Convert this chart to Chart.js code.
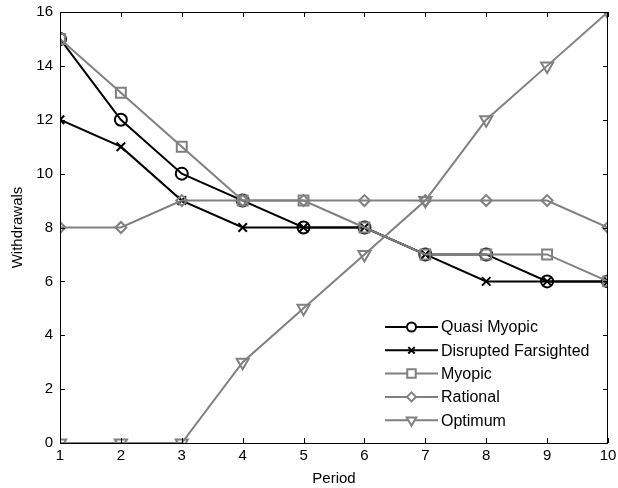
<!DOCTYPE html>
<html>
<head>
<meta charset="utf-8">
<script src="https://cdn.jsdelivr.net/npm/chart.js@4/dist/chart.umd.min.js"></script>
<style>
  html, body { margin: 0; padding: 0; background: #fff; }
  #wrap { width: 618px; height: 488px; }
</style>
</head>
<body>
<div id="wrap"><canvas id="chart" width="618" height="488"></canvas></div>
<script>
const periods = [1, 2, 3, 4, 5, 6, 7, 8, 9, 10];
const quasiMyopic = [15, 12, 10, 9, 8, 8, 7, 7, 6, 6];
const disruptedFarsighted = [12, 11, 9, 8, 8, 8, 7, 6, 6, 6];
const myopic = [15, 13, 11, 9, 9, 8, 7, 7, 7, 6];
const rational = [8, 8, 9, 9, 9, 9, 9, 9, 9, 8];
const optimum = [0, 0, 0, 3, 5, 7, 9, 12, 14, 16];

const BLACK = '#000000';
const GRAY = '#808080';
const FONT = 'Liberation Sans, Arial, sans-serif';

function pts(values) {
    return periods.map((p, i) => ({ x: p, y: values[i] }));
}

function series(label, values, color, style, radius, legendRadius, rotation) {
    return {
        label: label,
        data: pts(values),
        borderColor: color,
        backgroundColor: 'rgba(0,0,0,0)',
        pointBorderColor: color,
        pointBackgroundColor: 'rgba(0,0,0,0)',
        borderWidth: 2,
        pointBorderWidth: 2,
        pointStyle: style,
        pointRadius: radius,
        legendRadius: legendRadius,
        pointRotation: rotation || 0,
        tension: 0
    };
}

const datasets = [
    series('Quasi Myopic', quasiMyopic, BLACK, 'circle', 6, 4.5),
    series('Disrupted Farsighted', disruptedFarsighted, BLACK, 'crossRot', 6, 4.5),
    series('Myopic', myopic, GRAY, 'rect', 7, 6),
    series('Rational', rational, GRAY, 'rectRot', 5.5, 4.5),
    series('Optimum', optimum, GRAY, 'triangle', 7, 5.5, 180)
];
// later series drawn on top, like the original plot
datasets.forEach((d, i) => { d.order = datasets.length - i; });

// box + inward ticks on all four sides
const boxPlugin = {
    id: 'box',
    afterDatasetsDraw(chart) {
        const ctx = chart.ctx;
        const a = chart.chartArea;
        const xs = chart.scales.x;
        const ys = chart.scales.y;
        ctx.save();
        ctx.strokeStyle = BLACK;
        ctx.lineWidth = 1;
        ctx.strokeRect(a.left + 0.5, a.top + 0.5, a.right - a.left - 1, a.bottom - a.top);
        ctx.beginPath();
        const len = 5;
        xs.ticks.forEach(t => {
            const px = Math.round(xs.getPixelForValue(t.value)) + 0.5;
            ctx.moveTo(px, a.bottom);
            ctx.lineTo(px, a.bottom - len);
            ctx.moveTo(px, a.top);
            ctx.lineTo(px, a.top + len);
        });
        ys.ticks.forEach(t => {
            const py = Math.round(ys.getPixelForValue(t.value)) + 0.5;
            ctx.moveTo(a.left, py);
            ctx.lineTo(a.left + len, py);
            ctx.moveTo(a.right, py);
            ctx.lineTo(a.right - len, py);
        });
        ctx.stroke();
        ctx.restore();
    }
};

// legend inside the plot, bottom right, no frame
const legendPlugin = {
    id: 'innerLegend',
    afterDraw(chart) {
        const ctx = chart.ctx;
        const x0 = 385, x1 = 438, tx = 441;
        const y0 = 327, dy = 23.3;
        ctx.save();
        ctx.font = '16px ' + FONT;
        ctx.textBaseline = 'middle';
        ctx.textAlign = 'left';
        chart.data.datasets.forEach((d, i) => {
            const y = y0 + i * dy;
            ctx.strokeStyle = d.borderColor;
            ctx.lineWidth = 2;
            ctx.beginPath();
            ctx.moveTo(x0, y);
            ctx.lineTo(x1, y);
            ctx.stroke();
            ctx.fillStyle = '#ffffff';
            Chart.helpers.drawPoint(ctx, {
                pointStyle: d.pointStyle,
                radius: d.legendRadius,
                rotation: d.pointRotation,
                borderWidth: 2
            }, (x0 + x1) / 2, y);
            ctx.fillStyle = BLACK;
            ctx.fillText(d.label, tx, y + 1);
        });
        ctx.restore();
    }
};

new Chart(document.getElementById('chart'), {
    type: 'line',
    data: { datasets: datasets },
    options: {
        responsive: false,
        animation: false,
        layout: { padding: { left: 0, right: 10, top: 12, bottom: 0 } },
        plugins: {
            legend: { display: false },
            tooltip: { enabled: false }
        },
        scales: {
            x: {
                type: 'linear',
                min: 1,
                max: 10,
                ticks: { stepSize: 1, color: BLACK, font: { family: FONT, size: 15 }, padding: 4, maxRotation: 0 },
                grid: { display: true, drawOnChartArea: false, drawTicks: false },
                border: { display: false },
                title: { display: true, text: 'Period', color: BLACK, font: { family: FONT, size: 15 }, padding: { top: 1, bottom: 0 } },
                afterFit(scale) {
                    scale.height = 45;
                    scale.paddingLeft = 0;
                    scale.paddingRight = 0;
                }
            },
            y: {
                min: 0,
                max: 16,
                ticks: { stepSize: 2, color: BLACK, font: { family: FONT, size: 15 }, padding: 7 },
                grid: { display: true, drawOnChartArea: false, drawTicks: false },
                border: { display: false },
                title: { display: true, text: 'Withdrawals', color: BLACK, font: { family: FONT, size: 15 }, padding: { top: 9, bottom: 4 } },
                afterFit(scale) {
                    scale.width = 60;
                    scale.paddingTop = 0;
                    scale.paddingBottom = 0;
                }
            }
        }
    },
    plugins: [boxPlugin, legendPlugin]
});
</script>
</body>
</html>
